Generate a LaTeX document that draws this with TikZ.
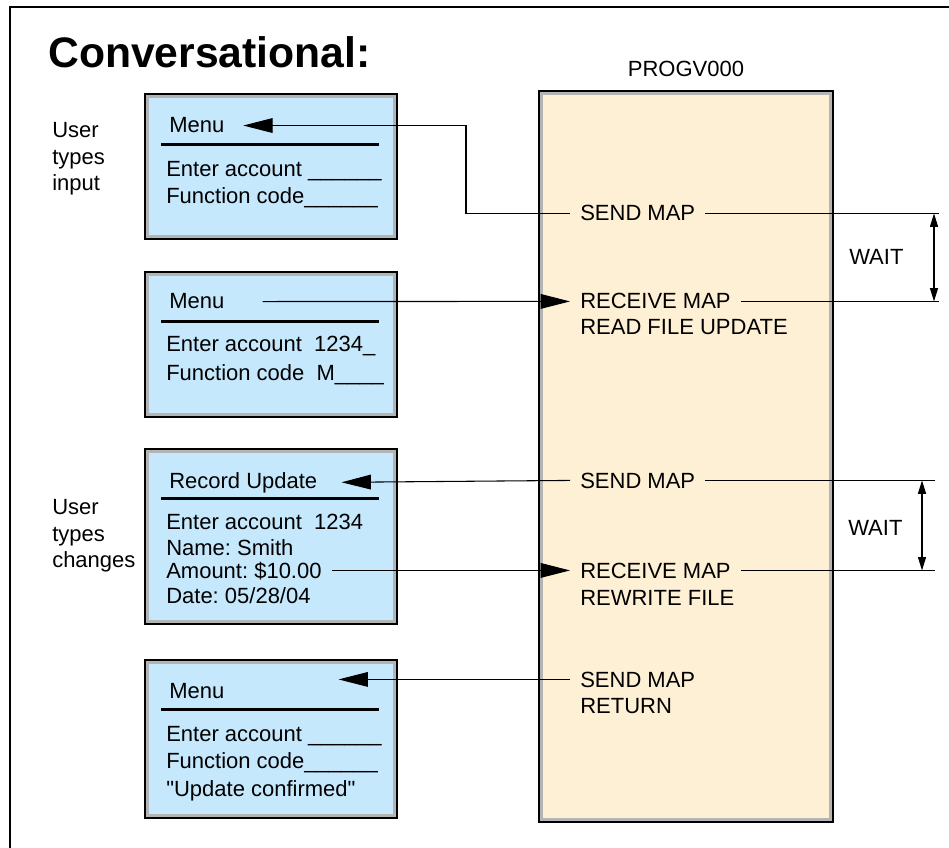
\documentclass[tikz,border=0pt]{standalone}
\usepackage{fontspec}
\setmainfont{Liberation Sans}
\usetikzlibrary{arrows.meta}
\frenchspacing

\definecolor{screenblue}{RGB}{198,232,253}
\definecolor{progbuff}{RGB}{254,240,212}
\definecolor{rimgray}{RGB}{180,180,180}

\tikzset{
  txt/.style={anchor=base west, inner sep=0pt, font=\fontsize{16.5}{20}\selectfont},
  cmd/.style={txt, inner xsep=7.5pt},
  sig/.style={line width=0.8pt, -{Triangle[length=22pt,width=11pt]}},
  gap/.style={line width=0.8pt, {Triangle[length=10pt,width=6pt]}-{Triangle[length=10pt,width=6pt]}},
  rule/.style={line width=2.25pt},
  lead/.style={line width=0.8pt},
}

% filled panel with black rim and gray inner rim
\newcommand{\screenpanel}[5]{%
  \fill[#5] (#1,#2) rectangle (#3,#4);
  \draw[rimgray, line width=2.25pt] (#1+2.5,#2+2.5) rectangle (#3-2.5,#4-2.5);
  \draw[black, line width=1.5pt] (#1,#2) rectangle (#3,#4);
}

\begin{document}
\begin{tikzpicture}[x=0.75pt, y=-0.75pt, line cap=butt]
  \useasboundingbox (0,0) rectangle (949,848);

  % outer frame
  \draw[line width=1.5pt] (10,848) -- (10,7) -- (949,7);

  % headings
  \node[txt, font=\fontsize{32}{36}\selectfont\bfseries] (title) at (48,68) {Conversational:};
  \node[anchor=base, inner sep=0pt, font=\fontsize{16.5}{20}\selectfont] (progname) at (686,77) {PROGV000};

  % program and screens
  \screenpanel{539}{91}{833}{822}{progbuff}
  \screenpanel{145}{94}{397}{239}{screenblue}
  \screenpanel{145}{272}{397}{417}{screenblue}
  \screenpanel{145}{449}{397}{624}{screenblue}
  \screenpanel{145}{660}{397}{818}{screenblue}

  \foreach \y in {145,322,498,709}
    \draw[rule] (161,\y) -- (379,\y);

  % side notes
  \node[txt, anchor=north west, align=left] (usr1) at (52,122) {User\\types\\input};
  \node[txt, anchor=north west, align=left] (usr2) at (52,499) {User\\types\\changes};

  % screen 1
  \node[txt] (mnu1) at (169,133) {Menu};
  \node[txt] (acc1) at (166,177) {Enter account \_\_\_\_\_\_};
  \node[txt] (fnc1) at (166,204) {Function code\_\_\_\_\_\_};
  % screen 2
  \node[txt] (mnu2) at (169,309) {Menu};
  \node[txt] (acc2) at (166,352) {Enter account\ \ 1234\_};
  \node[txt] (fnc2) at (166,380) {Function code\ \ M\_\_\_\_};
  % screen 3
  \node[txt] (rec3) at (169,488) {Record Update};
  \node[txt] (acc3) at (166,529) {Enter account\ \ 1234};
  \node[txt] (nam3) at (166,555) {Name: Smith};
  \node[txt] (amt3) at (166,578) {Amount: \$10.00};
  \node[txt] (dat3) at (166,603) {Date: 05/28/04};
  % screen 4
  \node[txt] (mnu4) at (169,698) {Menu};
  \node[txt] (acc4) at (166,741) {Enter account \_\_\_\_\_\_};
  \node[txt] (fnc4) at (166,768) {Function code\_\_\_\_\_\_};
  \node[txt] (cnf4) at (166,796) {\textquotedbl Update confirmed\textquotedbl};

  % program steps
  \node[cmd] (snd1) at (570,221) {SEND MAP};
  \node[cmd] (rcv1) at (570,309) {RECEIVE MAP};
  \node[cmd] (rdf1) at (570,335) {READ FILE UPDATE};
  \node[cmd] (snd2) at (570,488) {SEND MAP};
  \node[cmd] (rcv2) at (570,578) {RECEIVE MAP};
  \node[cmd] (rwf2) at (570,605) {REWRITE FILE};
  \node[cmd] (snd3) at (570,687) {SEND MAP};
  \node[cmd] (ret3) at (570,713) {RETURN};

  % map traffic
  \coordinate (bend1) at (466,0);
  \draw[sig] (snd1.west) -| (bend1 |- mnu1.east) -- ([xshift=14pt]mnu1.east);
  \draw[sig] ([xshift=28.5pt]mnu2.east) -- (rcv1.west);
  \draw[sig] (snd2.west) -- ([xshift=18pt]rec3.east);
  \draw[sig] ([xshift=7.5pt]amt3.east |- rcv2.west) -- (rcv2.west);
  \draw[sig] (snd3.west) -- ([xshift=85.5pt]mnu4.east |- snd3.west);

  % wait spans
  \coordinate (wait1) at (934,0);
  \coordinate (edge1) at (939,0);
  \draw[lead] (snd1.east) -- (snd1.east -| edge1);
  \draw[lead] (rcv1.east) -- (rcv1.east -| edge1);
  \draw[gap] (snd1.east -| wait1) -- (rcv1.east -| wait1);
  \node[txt] (wt1) at (849,265) {WAIT};

  \coordinate (wait2) at (922,0);
  \coordinate (edge2) at (935,0);
  \draw[lead] (snd2.east) -- (snd2.east -| edge2);
  \draw[lead] (rcv2.east) -- (rcv2.east -| edge2);
  \draw[gap] (snd2.east -| wait2) -- (rcv2.east -| wait2);
  \node[txt] (wt2) at (848,535) {WAIT};
\end{tikzpicture}
\end{document}
